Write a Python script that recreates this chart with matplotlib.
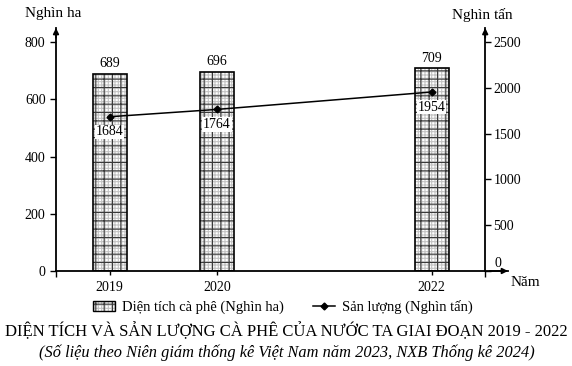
import matplotlib
matplotlib.use("Agg")
import matplotlib.pyplot as plt
from matplotlib.patches import Patch
from matplotlib.lines import Line2D
from matplotlib.legend_handler import HandlerTuple

years = [2019, 2020, 2022]
year_labels = ["2019", "2020", "2022"]
area = [689, 696, 709]          # Nghìn ha
output = [1684, 1764, 1954]     # Nghìn tấn
left_ticks = [0, 200, 400, 600, 800]
right_ticks = [0, 500, 1000, 1500, 2000, 2500]

plt.rcParams['font.family'] = ['Liberation Serif', 'DejaVu Serif']
plt.rcParams['hatch.linewidth'] = 0.8

fig = plt.figure(figsize=(5.72, 3.66), dpi=100)
W, H = 572, 366
x0, x1 = 56, 508
y0, y1 = 271, 28
pxyr = 107.3
pxunit = 229 / 800
ax = fig.add_axes([x0 / W, 1 - y0 / H, (x1 - x0) / W, (y0 - y1) / H])
ax.set_xlim(2018.5, 2018.5 + (x1 - x0) / pxyr)
ymax = (y0 - y1) / pxunit
ax.set_ylim(0, ymax)

bw = 34 / pxyr
ax.bar(years, area, width=bw, facecolor='white', edgecolor='#c4c4c4',
       hatch='+++++', linewidth=0, zorder=2)
ax.bar(years, area, width=bw, facecolor='none', edgecolor='#3a3a3a',
       hatch='++', linewidth=0, zorder=2.5)
ax.bar(years, area, width=bw, facecolor='none', edgecolor='black', linewidth=1.2, zorder=3)
for x, v in zip(years, area):
    ax.text(x, v + 12, str(v), ha='center', va='bottom', fontsize=10)

ax.spines['top'].set_visible(False)
ax.spines['right'].set_visible(False)
ax.spines['left'].set_linewidth(1.3)
ax.spines['bottom'].set_linewidth(1.3)
ax.set_yticks(left_ticks)
ax.set_yticklabels([str(t) for t in left_ticks], fontsize=10)
ax.set_xticks(years)
ax.set_xticklabels(year_labels, fontsize=10)
ax.tick_params(axis='x', length=3, width=1, pad=4)
ax.set_xticks([2018.5, 2022.5], minor=True)
ax.tick_params(axis='x', which='minor', length=4, width=1, direction='out')
ax.tick_params(axis='y', length=4, width=1)

ax2 = ax.twinx()
ax2.set_ylim(0, ymax * 2500 / 800)
for s in ['top', 'left', 'bottom']:
    ax2.spines[s].set_visible(False)
ax2.spines['right'].set_position(('data', 2022.5))
ax2.spines['right'].set_linewidth(1.3)
ax2.set_yticks(right_ticks)
ax2.set_yticklabels([''] + [str(t) for t in right_ticks[1:]], fontsize=10)
ax2.tick_params(axis='y', length=4, width=1, pad=2)
ax2.annotate(str(right_ticks[0]), xy=(2022.5, 0), xytext=(9, 0.5), textcoords='offset points',
             ha='center', va='bottom', fontsize=10)

ax2.plot(years, output, color='black', marker='D', markersize=3.5, linewidth=1.1, zorder=5)
for x, v in zip(years, output):
    ax2.text(x, v - 95, str(v), ha='center', va='top', fontsize=10,
             bbox=dict(facecolor='white', edgecolor='none', pad=0.5), zorder=6)

# arrows
ax.annotate('', xy=(0, 1.0), xytext=(0, 0.96), xycoords='axes fraction',
            arrowprops=dict(arrowstyle='-|>', color='black', lw=1.3, mutation_scale=8,
                            shrinkA=0, shrinkB=0))
ax.annotate('', xy=(1.0, 0), xytext=(0.96, 0), xycoords='axes fraction',
            arrowprops=dict(arrowstyle='-|>', color='black', lw=1.3, mutation_scale=8,
                            shrinkA=0, shrinkB=0))
ax2.annotate('', xy=(2022.5, ymax * 2500 / 800), xytext=(2022.5, ymax * 2500 / 800 * 0.96),
             xycoords='data',
             arrowprops=dict(arrowstyle='-|>', color='black', lw=1.3, mutation_scale=8,
                             shrinkA=0, shrinkB=0))

fig.text(53 / W, 1 - 13 / H, 'Nghìn ha', ha='center', va='center', fontsize=11)
fig.text(482 / W, 1 - 15 / H, 'Nghìn tấn', ha='center', va='center', fontsize=11)
fig.text(525 / W, 1 - 283 / H, 'Năm', ha='center', va='center', fontsize=11)

bar_handle = (Patch(facecolor='white', edgecolor='#c4c4c4', hatch='+++++', linewidth=0),
              Patch(facecolor='none', edgecolor='#3a3a3a', hatch='++', linewidth=0),
              Patch(facecolor='none', edgecolor='black', linewidth=1))
line_handle = Line2D([0], [0], color='black', marker='D', markersize=3.5, linewidth=1.1)
fig.legend([bar_handle, line_handle], ['Diện tích cà phê (Nghìn ha)', 'Sản lượng (Nghìn tấn)'],
           handler_map={tuple: HandlerTuple(ndivide=1, pad=0)},
           loc='center', bbox_to_anchor=(283 / W, 1 - 307 / H), ncol=2, frameon=False,
           fontsize=10.5, handlelength=1.5, columnspacing=2.0, handletextpad=0.5)

fig.text(0.5, 1 - 331 / H, 'DIỆN TÍCH VÀ SẢN LƯỢNG CÀ PHÊ CỦA NƯỚC TA GIAI ĐOẠN 2019 - 2022',
         ha='center', va='center', fontsize=12.0)
fig.text(0.502, 1 - 353 / H, '(Số liệu theo Niên giám thống kê Việt Nam năm 2023, NXB Thống kê 2024)',
         ha='center', va='center', fontsize=11.8, style='italic')

fig.savefig('out.png', dpi=100)
